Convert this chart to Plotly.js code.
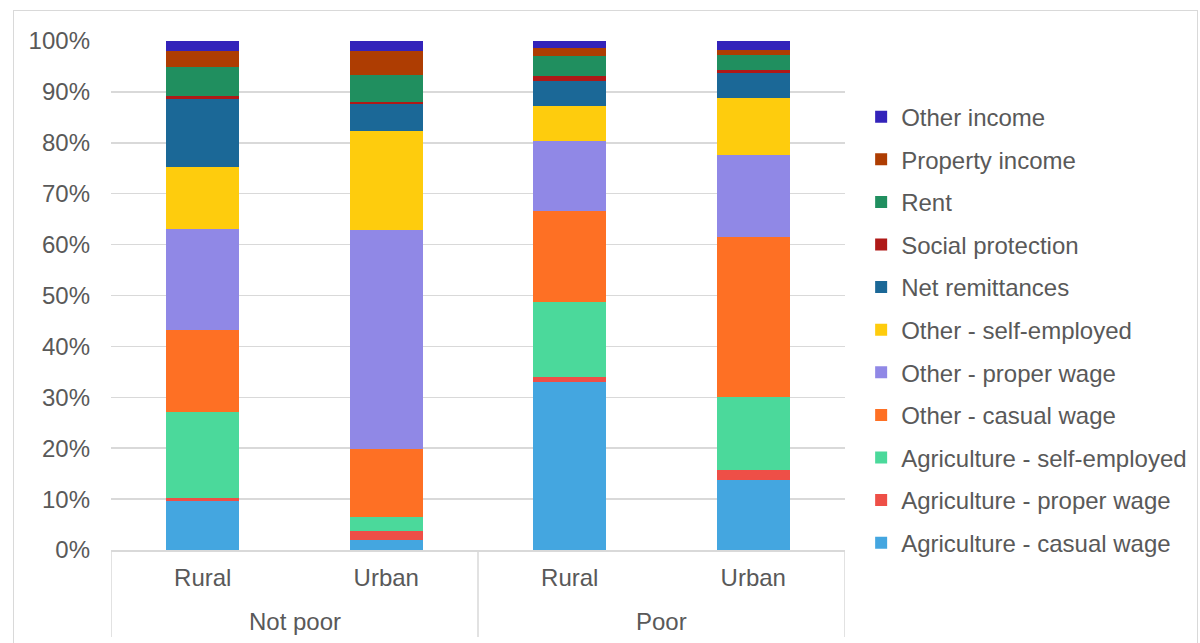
<!DOCTYPE html>
<html><head><meta charset="utf-8">
<script src="https://cdn.plot.ly/plotly-3.0.1.min.js"></script>
<style>
html,body{margin:0;padding:0;background:#fff;}
#frame{position:absolute;left:13px;top:10px;width:1185px;height:660px;border:1px solid #d9d9d9;box-sizing:border-box;}
#chart{position:absolute;left:0;top:0;width:1200px;height:643px;}
</style></head>
<body>
<div id="frame"></div>
<div id="chart"></div>
<script>
const groups = ["Not poor","Not poor","Poor","Poor"];
const areas = ["Rural","Urban","Rural","Urban"];
const groupNames = ["Not poor","Poor"];
// bottom-to-top order
const seriesNames = ["Agriculture - casual wage","Agriculture - proper wage","Agriculture - self-employed","Other - casual wage","Other - proper wage","Other - self-employed","Net remittances","Social protection","Rent","Property income","Other income"];
const agriCasual = [9.7, 2.0, 33.0, 13.7];
const agriProper = [0.6, 1.7, 0.9, 2.1];
const agriSelf = [16.8, 2.8, 14.8, 14.3];
const otherCasual = [16.2, 13.4, 18.0, 31.4];
const otherProper = [19.7, 42.9, 13.6, 16.1];
const otherSelf = [12.2, 19.5, 7.0, 11.2];
const netRemit = [13.4, 5.4, 4.9, 4.9];
const socialProt = [0.6, 0.3, 1.0, 0.6];
const rent = [5.7, 5.3, 3.9, 3.0];
const propertyIncome = [3.1, 4.7, 1.6, 0.9];
const otherIncome = [2.0, 2.0, 1.3, 1.8];
const seriesValues = [agriCasual, agriProper, agriSelf, otherCasual, otherProper, otherSelf, netRemit, socialProt, rent, propertyIncome, otherIncome];
const colors = ["#44a6e0","#ee4f47","#4bd99b","#fe7024","#9088e6","#fecc0d","#1b6897","#af1917","#208f5f","#ae3d02","#3323ba"];
const yTicks = [0,10,20,30,40,50,60,70,80,90,100];
const yTickText = yTicks.map(v => v + "%");

const keys = groups.map((g,i) => g + "|" + areas[i]);

const traces = seriesNames.map((n,i) => ({
  type: "bar",
  name: n,
  x: keys,
  y: seriesValues[i].map(v => v/100),
  marker: {color: colors[i], line: {width: 0}},
  legendgroup: "g" + i,
  legendrank: 100 - i,
  hoverinfo: "name+y"
}));

const font = {family: "Liberation Sans, Arial, sans-serif", size: 24, color: "#595959"};
const divColor = "#d9d9d9";

// group dividers and labels placed on the category scale
const shapes = [];
const annotations = [];
let start = 0;
groupNames.forEach(g => {
  const cnt = groups.filter(x => x === g).length;
  annotations.push({
    xref: "x", yref: "paper", x: start + (cnt - 1) / 2, y: -0.1395,
    text: g, showarrow: false, font: font, xanchor: "center", yanchor: "middle"
  });
  shapes.push({type: "line", xref: "x", yref: "paper", x0: start - 0.5, x1: start - 0.5, y0: 0, y1: -0.171,
    line: {color: divColor, width: 1.5}});
  start += cnt;
});
shapes.push({type: "line", xref: "x", yref: "paper", x0: start - 0.5, x1: start - 0.5, y0: 0, y1: -0.171,
  line: {color: divColor, width: 1.5}});

const layout = {
  width: 1200, height: 643,
  margin: {l: 111, r: 355, t: 41, b: 93, autoexpand: false},
  paper_bgcolor: "rgba(0,0,0,0)",
  plot_bgcolor: "rgba(0,0,0,0)",
  barmode: "stack",
  bargap: 0.6,
  font: font,
  showlegend: true,
  legend: {
    x: 1.022, xanchor: "left", y: 0.432, yanchor: "middle",
    traceorder: "grouped",
    tracegroupgap: 8.4,
    font: font,
    itemwidth: 30,
    itemclick: false
  },
  xaxis: {
    type: "category",
    range: [-0.5, 3.5],
    tickvals: keys,
    ticktext: areas,
    showgrid: false,
    showline: true, linecolor: divColor, linewidth: 1.5,
    ticks: "", tickfont: font, ticklabelstandoff: 6,
    zeroline: false
  },
  yaxis: {
    range: [0, 1],
    tickvals: yTicks.map(v => v/100),
    ticktext: yTickText,
    showgrid: true, gridcolor: divColor, gridwidth: 1.5,
    zeroline: false, showline: false, ticks: "",
    tickfont: font, ticklabelstandoff: 20
  },
  shapes: shapes,
  annotations: annotations
};
Plotly.newPlot("chart", traces, layout, {displayModeBar: false, staticPlot: true});
</script>
</body></html>
